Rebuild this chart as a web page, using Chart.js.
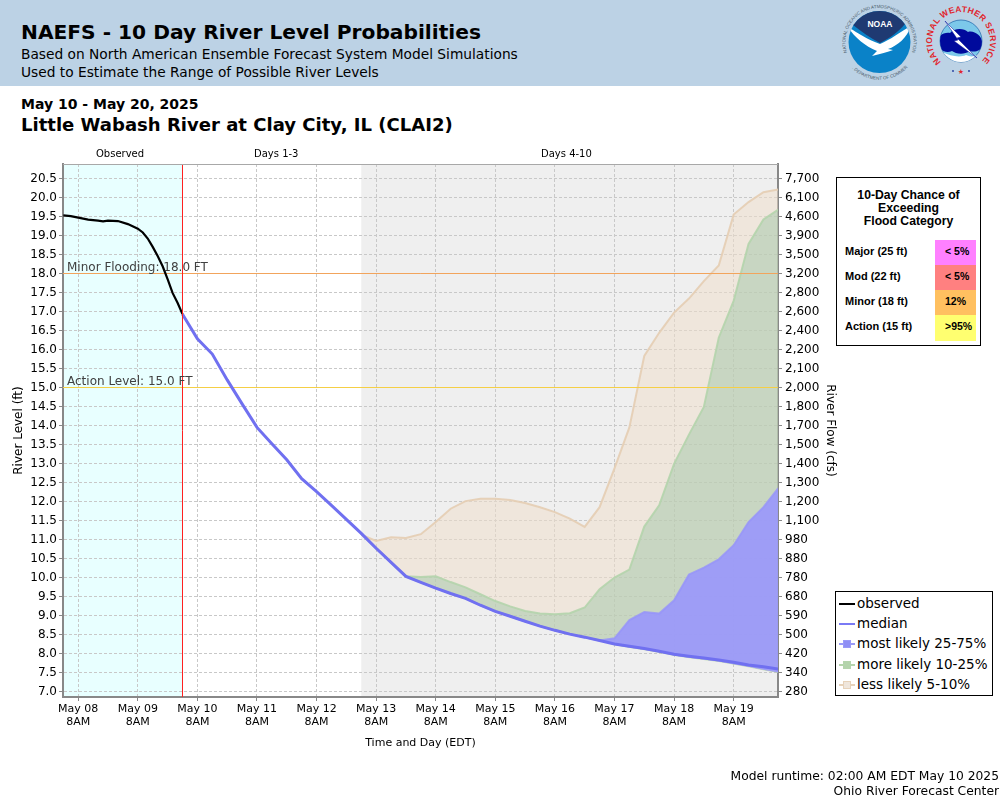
<!DOCTYPE html>
<html>
<head>
<meta charset="utf-8">
<title>NAEFS - 10 Day River Level Probabilities</title>
<script src="https://cdn.jsdelivr.net/npm/chart.js@4/dist/chart.umd.min.js"></script>
<style>
html, body { margin: 0; padding: 0; background: #fff; }
body { width: 1000px; height: 800px; position: relative; overflow: hidden; font-family: "DejaVu Sans", sans-serif; color: #000; }
#banner { position: absolute; left: 0; top: 0; width: 1000px; height: 86px; background: #bcd2e5; }
.txt { position: absolute; white-space: nowrap; }
#plot { position: absolute; left: 0; top: 0; }
#logos { position: absolute; left: 830px; top: 0; }
#floodBox { position: absolute; left: 836px; top: 177px; width: 143px; height: 167px; border: 1px solid #000; background: #fff; font-family: "Liberation Sans", sans-serif; font-weight: bold; }
#floodBox .head { position: absolute; left: 0; width: 143px; text-align: center; font-size: 12.2px; line-height: 13px; top: 11px; }
#floodBox .lab { position: absolute; left: 8px; font-size: 11px; }
#floodBox .cell { position: absolute; left: 98px; width: 41px; height: 25px; font-size: 10.5px; line-height: 23px; }
#floodBox .cell span { position: absolute; left: 10px; }
#legendBox { position: absolute; left: 835px; top: 591px; width: 156px; height: 103px; border: 1px solid #000; background: #fff; font-size: 13.5px; }
#legendBox .row { position: absolute; left: 21px; line-height: 16px; white-space: nowrap; }
#legendBox .ln { position: absolute; left: 3px; width: 16px; height: 2px; }
#legendBox .sw { position: absolute; left: 7px; width: 6px; height: 6px; border: 1px solid; }
</style>
</head>
<body>
<div id="banner"></div>
<div class="txt" style="left:21px;top:20px;font-size:20.2px;font-weight:bold;">NAEFS - 10 Day River Level Probabilities</div>
<div class="txt" style="left:21px;top:46px;font-size:13.75px;">Based on North American Ensemble Forecast System Model Simulations</div>
<div class="txt" style="left:21px;top:64px;font-size:13.75px;">Used to Estimate the Range of Possible River Levels</div>
<div class="txt" style="left:21px;top:96px;font-size:14px;font-weight:bold;">May 10 - May 20, 2025</div>
<div class="txt" style="left:21px;top:114px;font-size:18.05px;font-weight:bold;">Little Wabash River at Clay City, IL (CLAI2)</div>

<svg id="logos" width="170" height="90" viewBox="830 0 170 90">
  <defs>
    <path id="noaaTop" d="M 848.5 56 A 34 34 0 1 1 910.5 56"/>
    <path id="noaaBot" d="M 852 68 A 38 38 0 0 0 907 68"/>
    <path id="nwsArc" d="M 941 62 A 29 29 0 1 1 981 62"/>
    <clipPath id="noaaClip"><circle cx="879.5" cy="42" r="31"/></clipPath>
    <clipPath id="nwsClip"><circle cx="961" cy="41" r="21"/></clipPath>
  </defs>
  <text font-size="4.5" fill="#4a5a6a" font-family="Liberation Sans" text-anchor="middle"><textPath href="#noaaTop" startOffset="50%">NATIONAL OCEANIC AND ATMOSPHERIC ADMINISTRATION</textPath></text>
  <text font-size="4.5" fill="#4a5a6a" font-family="Liberation Sans" text-anchor="middle"><textPath href="#noaaBot" startOffset="50%">U.S. DEPARTMENT OF COMMERCE</textPath></text>
  <circle cx="879.5" cy="42" r="31" fill="#0a82c8"/>
  <g clip-path="url(#noaaClip)">
    <path d="M 846 8 H 914 V 24 L 905 24 C 898 32 890 38 880 43 C 870 38 862 32 853 25 L 846 25 Z" fill="#1f3a72"/>
    <path d="M 848 27 C 858 33 868 40 880 44 C 890 40 900 32 911 26 C 907 38 897 46 888 49 L 893 50 C 888 52 880 54 872 56 L 877 51 C 865 46 855 38 848 27 Z" fill="#fff"/>
  </g>
  <text x="880" y="27" text-anchor="middle" font-size="8.5" font-weight="bold" fill="#fff" font-family="Liberation Sans">NOAA</text>

  <text font-size="8.5" font-weight="bold" fill="#e0262e" font-family="Liberation Sans"><textPath href="#nwsArc" textLength="136">NATIONAL WEATHER SERVICE</textPath></text>
  <circle cx="961" cy="41" r="21" fill="#7cc8ea" stroke="#2a6fb0" stroke-width="0.8"/>
  <g clip-path="url(#nwsClip)">
    <path d="M 938 42 C 938 34 946 32 950 33 C 954 28 964 28 968 32 C 974 30 982 36 982 42 C 984 50 976 53 970 51 C 964 55 956 54 952 51 C 946 54 938 50 938 42 Z" fill="#000a9c"/>
    <path d="M 942 52 C 950 56 960 58 966 55 C 972 58 978 56 982 50 L 982 64 L 942 64 Z" fill="#fff"/>
  </g>
  <path d="M 945 21 L 961 37 L 957 38 L 977 58 L 954 41 L 958 40 Z" fill="#fff" stroke="#000a9c" stroke-width="0.5"/>
  <circle cx="953" cy="71" r="0.9" fill="#1f3a9c"/>
  <circle cx="969" cy="71" r="0.9" fill="#1f3a9c"/>
  <text x="961" y="74" text-anchor="middle" font-size="7" fill="#e0262e" font-weight="bold">&#9733;</text>
</svg>

<canvas id="plot" width="1000" height="800"></canvas>

<div class="txt" style="left:96px;top:148px;font-size:10px;">Observed</div>
<div class="txt" style="left:254px;top:148px;font-size:10px;">Days 1-3</div>
<div class="txt" style="left:541px;top:148px;font-size:10px;">Days 4-10</div>

<div id="floodBox">
  <div class="head">10-Day Chance of<br>Exceeding<br>Flood Category</div>
  <div class="lab" style="top:67px;">Major (25 ft)</div>
  <div class="lab" style="top:92px;">Mod (22 ft)</div>
  <div class="lab" style="top:117px;">Minor (18 ft)</div>
  <div class="lab" style="top:142px;">Action (15 ft)</div>
  <div class="cell" style="top:62px;background:#ff80ff;"><span>&lt; 5%</span></div>
  <div class="cell" style="top:87px;background:#ff8080;"><span>&lt; 5%</span></div>
  <div class="cell" style="top:112px;background:#ffc060;"><span>12%</span></div>
  <div class="cell" style="top:137px;background:#ffff70;height:26px;"><span>&gt;95%</span></div>
</div>

<div id="legendBox">
  <div class="ln" style="top:11px;background:#000;"></div><div class="row" style="top:3px;">observed</div>
  <div class="ln" style="top:31px;background:#7a7af5;"></div><div class="row" style="top:23px;">median</div>
  <div class="ln" style="top:51px;background:#9a9af8;"></div><div class="sw" style="top:48px;background:#8f8ff5;border-color:#9a9af8;"></div><div class="row" style="top:43px;">most likely 25-75%</div>
  <div class="ln" style="top:72px;background:#b4d4ac;"></div><div class="sw" style="top:69px;background:#b4d4ac;border-color:#b4d4ac;"></div><div class="row" style="top:64px;">more likely 10-25%</div>
  <div class="ln" style="top:92px;background:#e6d2ba;"></div><div class="sw" style="top:89px;background:#efe6dc;border-color:#e6d2ba;"></div><div class="row" style="top:84px;">less likely 5-10%</div>
</div>

<div class="txt" style="right:1px;top:769px;font-size:12.3px;">Model runtime: 02:00 AM EDT May 10 2025</div>
<div class="txt" style="right:1px;top:784px;font-size:12.3px;">Ohio River Forecast Center</div>

<script>
// hours are counted from May 08 8AM EDT
var axisStart = -6.135, axisEnd = 281.865, observedEnd = 42, greyStart = 114;
var levelMin = 6.8553, levelMax = 20.8816;
var levelTicks = [7.0,7.5,8.0,8.5,9.0,9.5,10.0,10.5,11.0,11.5,12.0,12.5,13.0,13.5,14.0,14.5,15.0,15.5,16.0,16.5,17.0,17.5,18.0,18.5,19.0,19.5,20.0,20.5];
var flowTicks = ['280','340','420','500','590','680','780','880','980','1,100','1,200','1,300','1,400','1,500','1,700','1,800','2,000','2,100','2,200','2,400','2,600','2,800','3,200','3,500','3,900','4,600','6,100','7,700'];
var dayHours = [0,24,48,72,96,120,144,168,192,216,240,264];
var dayLabels = ['May 08','May 09','May 10','May 11','May 12','May 13','May 14','May 15','May 16','May 17','May 18','May 19'];

var observedHours = [-6,-3,0,4,8,10,12,16,20,24,26,28,30,32,34,36,38,40,42];
var observedLevel = [19.53,19.51,19.47,19.42,19.39,19.37,19.39,19.38,19.30,19.18,19.08,18.92,18.70,18.46,18.19,17.85,17.49,17.23,16.93];

var medianHours = [42,48,54,60,66,72,78,84,90,96,102,108,114,120,126,132,138,144,150,156,162,168,174,180,186,192,198,204,210,216,222,228,234,240,246,252,258,264,270,276,282];
var medianLevel = [16.93,16.28,15.88,15.2,14.57,13.95,13.52,13.1,12.6,12.26,11.9,11.53,11.16,10.77,10.4,10.03,9.87,9.72,9.58,9.45,9.27,9.11,8.98,8.85,8.72,8.61,8.51,8.43,8.34,8.25,8.19,8.13,8.06,7.98,7.93,7.88,7.83,7.77,7.70,7.65,7.59];

// bands only exist from May 13 2AM on
var bandHours = [114,120,126,132,138,144,150,156,162,168,174,180,186,192,198,204,210,216,222,228,234,240,246,252,258,264,270,276,282];
var bandLow  = [11.16,10.77,10.4,10.03,9.87,9.72,9.58,9.45,9.27,9.11,8.98,8.85,8.72,8.61,8.51,8.43,8.34,8.23,8.16,8.10,8.03,7.95,7.89,7.84,7.79,7.72,7.65,7.57,7.5];
var band75   = [11.16,10.77,10.4,10.03,9.87,9.72,9.58,9.45,9.27,9.11,8.98,8.85,8.72,8.61,8.51,8.43,8.34,8.40,8.88,9.09,9.05,9.40,10.08,10.26,10.48,10.85,11.46,11.85,12.35];
var band90   = [11.16,10.77,10.4,10.03,10.01,10.03,9.88,9.74,9.56,9.38,9.24,9.12,9.05,9.03,9.06,9.21,9.69,10.0,10.21,11.34,11.9,12.99,13.76,14.49,16.31,17.28,18.78,19.42,19.68];
var band95   = [11.13,10.96,11.06,11.04,11.14,11.46,11.81,12.01,12.07,12.07,12.04,11.96,11.85,11.72,11.55,11.33,11.85,12.87,13.95,15.83,16.44,16.97,17.34,17.8,18.21,19.55,19.88,20.14,20.21];

var minorLevel = 18.0, actionLevel = 15.0;
var minorLabel = 'Minor Flooding: 18.0 FT', actionLabel = 'Action Level: 15.0 FT';

function toPoints(xs, ys) {
    return xs.map(function(x, i) { return { x: x, y: ys[i] }; });
}

// shaded periods go under the grid
var periodShade = {
    id: 'periodShade',
    beforeDraw: function(chart) {
        var c = chart.ctx, a = chart.chartArea, sx = chart.scales.x;
        c.save();
        c.fillStyle = '#e8ffff';
        c.fillRect(a.left, a.top, sx.getPixelForValue(observedEnd) - a.left, a.height);
        c.fillStyle = '#efefef';
        var g = sx.getPixelForValue(greyStart);
        c.fillRect(g, a.top, a.right - g, a.height);
        c.restore();
    },
    afterDraw: function(chart) {
        // thin line along the top of the plot
        var c = chart.ctx, a = chart.chartArea;
        c.save();
        c.fillStyle = '#a8a8a8';
        c.fillRect(a.left, a.top, a.width, 1);
        c.restore();
    }
};

var levelLabels = {
    id: 'levelLabels',
    afterDatasetsDraw: function(chart) {
        var c = chart.ctx, a = chart.chartArea, sy = chart.scales.y;
        c.save();
        c.font = '12px "DejaVu Sans"';
        c.fillStyle = '#404040';
        c.textBaseline = 'alphabetic';
        c.fillText(minorLabel, a.left + 4, sy.getPixelForValue(minorLevel) - 3);
        c.fillText(actionLabel, a.left + 4, sy.getPixelForValue(actionLevel) - 3);
        c.restore();
    }
};

var lineOnly = { pointRadius: 0, tension: 0, fill: false };

new Chart(document.getElementById('plot'), {
    type: 'line',
    data: {
        datasets: [
            Object.assign({}, lineOnly, { label: 'low', data: toPoints(bandHours, bandLow), borderColor: 'rgba(180,212,172,0.8)', borderWidth: 1, order: 10 }),
            { label: 'less likely 5-10%', data: toPoints(bandHours, band95), pointRadius: 0, tension: 0, borderWidth: 2, borderColor: 'rgba(228,205,178,0.9)', backgroundColor: 'rgba(239,221,201,0.5)', fill: 0, order: 9 },
            { label: 'more likely 10-25%', data: toPoints(bandHours, band90), pointRadius: 0, tension: 0, borderWidth: 2, borderColor: 'rgba(180,212,172,0.9)', backgroundColor: 'rgba(161,198,168,0.5)', fill: 0, order: 8 },
            { label: 'most likely 25-75%', data: toPoints(bandHours, band75), pointRadius: 0, tension: 0, borderWidth: 2, borderColor: 'rgba(150,147,250,0.8)', backgroundColor: 'rgba(150,147,255,0.85)', fill: 0, order: 7 },
            Object.assign({}, lineOnly, { label: 'minor', data: toPoints([axisStart, axisEnd], [minorLevel, minorLevel]), borderColor: '#f2a45c', borderWidth: 1, order: 6 }),
            Object.assign({}, lineOnly, { label: 'action', data: toPoints([axisStart, axisEnd], [actionLevel, actionLevel]), borderColor: '#f5cf45', borderWidth: 1, order: 6 }),
            Object.assign({}, lineOnly, { label: 'median', data: toPoints(medianHours, medianLevel), borderColor: '#7070f0', borderWidth: 3, order: 3 }),
            Object.assign({}, lineOnly, { label: 'observed', data: toPoints(observedHours, observedLevel), borderColor: '#000', borderWidth: 2.2, order: 2 }),
            Object.assign({}, lineOnly, { label: 'now', data: toPoints([observedEnd, observedEnd], [levelMin, levelMax]), borderColor: '#ff2020', borderWidth: 1, order: 1 })
        ]
    },
    plugins: [periodShade, levelLabels],
    options: {
        responsive: false,
        animation: false,
        devicePixelRatio: 1,
        layout: { padding: { left: 0, top: 164, right: 160, bottom: 50 } },
        plugins: { legend: { display: false }, tooltip: { enabled: false } },
        scales: {
            x: {
                type: 'linear', min: axisStart, max: axisEnd,
                afterFit: function(s) { s.height = 53; },
                afterBuildTicks: function(s) {
                    s.ticks = dayHours.map(function(h) { return { value: h }; });
                },
                grid: { color: '#c8c8c8', tickColor: '#888', tickLength: 4 },
                border: { color: '#888', width: 2, dash: [3, 2] },
                ticks: {
                    autoSkip: false, maxRotation: 0, padding: 2, color: '#000',
                    font: { family: 'DejaVu Sans', size: 11, lineHeight: 1.15 },
                    callback: function(v) {
                        var i = dayHours.indexOf(v);
                        return i < 0 ? '' : [dayLabels[i], '8AM'];
                    }
                },
                title: { display: true, text: 'Time and Day (EDT)', color: '#000', padding: { top: 4, bottom: 0 }, font: { family: 'DejaVu Sans', size: 11 } }
            },
            y: {
                position: 'left', min: levelMin, max: levelMax,
                afterFit: function(s) { s.width = 63; },
                afterBuildTicks: function(s) {
                    s.ticks = levelTicks.map(function(v) { return { value: v }; });
                },
                grid: { color: '#c8c8c8', tickColor: '#888', tickLength: 4 },
                border: { color: '#888', width: 2, dash: [3, 2] },
                ticks: {
                    autoSkip: false, padding: 2, color: '#000',
                    font: { family: 'DejaVu Sans', size: 12 },
                    callback: function(v) { return v.toFixed(1); }
                },
                title: { display: true, text: 'River Level (ft)', color: '#000', padding: { top: 12, bottom: 0 }, font: { family: 'DejaVu Sans', size: 12 } }
            },
            flow: {
                position: 'right', min: levelMin, max: levelMax,
                afterFit: function(s) { s.width = 62; },
                afterBuildTicks: function(s) {
                    s.ticks = levelTicks.map(function(v) { return { value: v }; });
                },
                grid: { drawOnChartArea: false, tickColor: '#888', tickLength: 4 },
                border: { color: '#888', width: 2 },
                ticks: {
                    autoSkip: false, padding: 3, color: '#000',
                    font: { family: 'DejaVu Sans', size: 12 },
                    callback: function(v) { return flowTicks[levelTicks.indexOf(v)]; }
                },
                title: { display: true, text: 'River Flow (cfs)', color: '#000', padding: { top: 3, bottom: 0 }, font: { family: 'DejaVu Sans', size: 12 } }
            }
        }
    }
});
</script>
</body>
</html>
